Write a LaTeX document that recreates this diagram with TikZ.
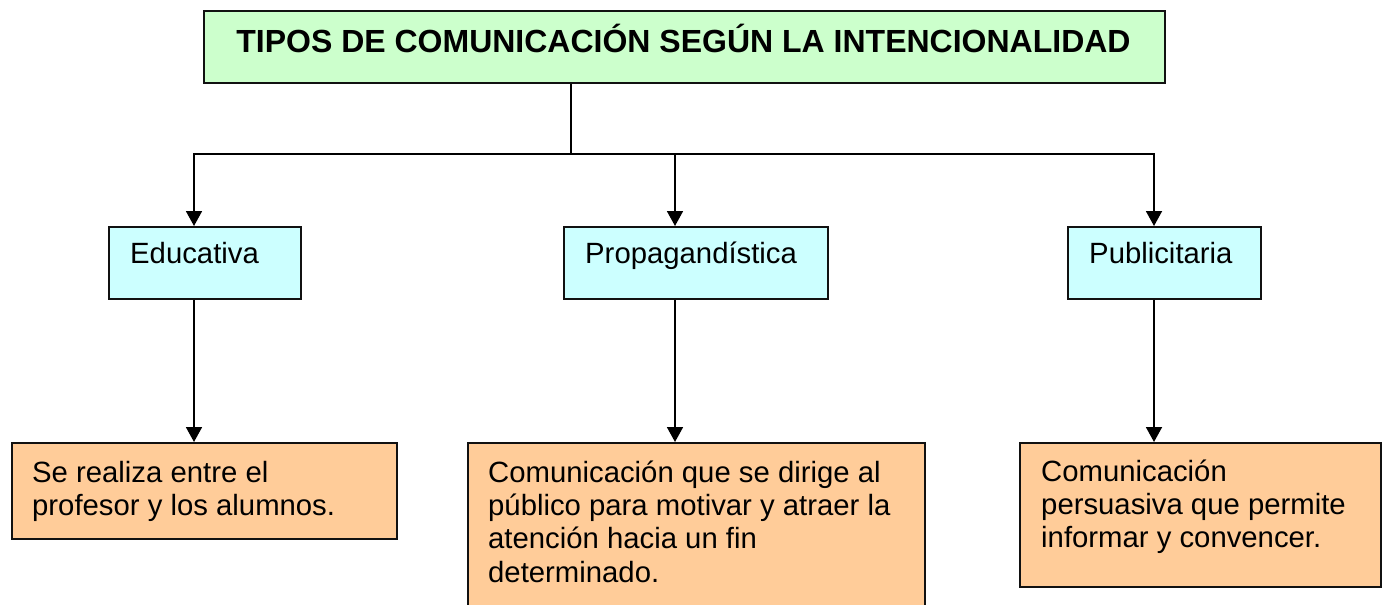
\documentclass[tikz,border=0pt]{standalone}
\usepackage{fontspec}
\setmainfont{Liberation Sans}
\usetikzlibrary{arrows.meta}
\definecolor{tgreen}{HTML}{CCFFCC}
\definecolor{tcyan}{HTML}{CCFFFF}
\definecolor{torange}{HTML}{FFCC99}
\definecolor{tline}{HTML}{111111}
\begin{document}
\begin{tikzpicture}[x=1pt,y=-1pt,
  boxst/.style={draw=tline, line width=1.8pt, inner sep=0pt, anchor=north west},
  ln/.style={draw=black, line width=1.8pt},
  arr/.style={ln, -{Triangle[width=16pt,length=15pt]}},
  lbl/.style={inner sep=0pt, font=\fontsize{29.3}{33.3}\selectfont, align=left, anchor=north west},
  ttl/.style={inner sep=0pt, font=\fontsize{32}{36}\selectfont\bfseries, anchor=base}]
\useasboundingbox (0,0) rectangle (1387,605);
\fill[white] (0,0) rectangle (1387,605);
\clip (0,0) rectangle (1387,605);

% boxes
\node[boxst, fill=tgreen, minimum width=961pt, minimum height=72pt] (title) at (203,10) {};
\node[boxst, fill=tcyan, minimum width=192pt, minimum height=72pt] (edu) at (108,226) {};
\node[boxst, fill=tcyan, minimum width=264pt, minimum height=72pt] (pro) at (563,226) {};
\node[boxst, fill=tcyan, minimum width=193pt, minimum height=72pt] (pub) at (1067,226) {};
\node[boxst, fill=torange, minimum width=385pt, minimum height=96pt] (d1) at (11,442) {};
\node[boxst, fill=torange, minimum width=457pt, minimum height=180pt] (d2) at (467,442) {};
\node[boxst, fill=torange, minimum width=361pt, minimum height=144pt] (d3) at (1019,442) {};

% texts
\node[ttl] (ttitle) at (683.5,52) {TIPOS DE COMUNICACIÓN SEGÚN LA INTENCIONALIDAD};
\node[lbl] (tedu) at (130,241) {\rule{0pt}{22pt}Educativa};
\node[lbl] (tpro) at (585,241) {\rule{0pt}{22pt}Propagandística};
\node[lbl] (tpub) at (1089,241) {\rule{0pt}{22pt}Publicitaria};
\node[lbl] (td1) at (32,460) {\rule{0pt}{22pt}Se realiza entre el\\profesor y los alumnos.};
\node[lbl] (td2) at (488,460) {\rule{0pt}{22pt}Comunicación que se dirige al\\público para motivar y atraer la\\atención hacia un fin\\determinado.};
\node[lbl] (td3) at (1041,459) {\rule{0pt}{22pt}Comunicación\\persuasiva que permite\\informar y convencer.};

% connectors
\coordinate (j) at (571,154);
\coordinate (jl) at (194,154);
\coordinate (jm) at (675,154);
\coordinate (jr) at (1154,154);
\draw[ln] (title.south -| j) -- (j);
\draw[ln, line cap=rect] (jl) -- (jr);
\draw[arr] (jl) -- (jl |- edu.north);
\draw[arr] (jm) -- (jm |- pro.north);
\draw[arr] (jr) -- (jr |- pub.north);
\draw[arr] (jl |- edu.south) -- (jl |- d1.north);
\draw[arr] (jm |- pro.south) -- (jm |- d2.north);
\draw[arr] (jr |- pub.south) -- (jr |- d3.north);
\end{tikzpicture}
\end{document}
